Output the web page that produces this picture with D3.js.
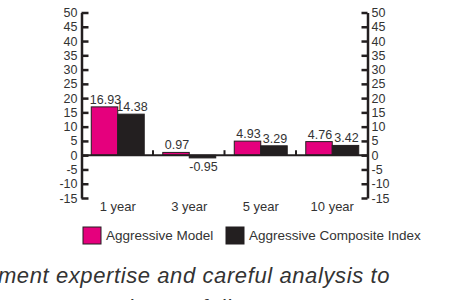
<!DOCTYPE html>
<html>
<head>
<meta charset="utf-8">
<script src="https://cdn.jsdelivr.net/npm/d3@7"></script>
<style>
  body { margin: 0; background: #fff; }
  svg { display: block; font-family: "Liberation Sans", Arial, sans-serif; }
</style>
</head>
<body>
<svg id="chart" width="469" height="300"></svg>
<script>
const categories = ['1 year', '3 year', '5 year', '10 year'];
const seriesNames = ['Aggressive Model', 'Aggressive Composite Index'];
const modelValues = [16.93, 0.97, 4.93, 4.76];
const indexValues = [14.38, -0.95, 3.29, 3.42];
const yTicks = [-15, -10, -5, 0, 5, 10, 15, 20, 25, 30, 35, 40, 45, 50];

const PINK = '#e5007d';
const DARK = '#231f20';
const TEXT = '#333';

const svg = d3.select('#chart');

let x = d3.scaleBand().domain(categories).range([82, 368]);
let inner = d3.scaleBand().domain(seriesNames).range([0, x.bandwidth()]).paddingOuter(0.35);
let y = d3.scaleLinear().domain([-15, 50]).range([198, 12.5]);
let color = d3.scaleOrdinal().domain(seriesNames).range([PINK, DARK]);

// plain hyphen for negatives, like the original
let fmtTick = (d) => String(d);
let fmtValue = (d) => d.toFixed(2);

// rows: one per category, holding both series values
let rows = categories.map((c, i) => ({ cat: c, vals: [modelValues[i], indexValues[i]] }));

// bars
let groups = svg.append('g').selectAll('g')
  .data(rows)
  .enter()
  .append('g')
    .attr('transform', (d) => `translate(${x(d.cat)},0)`);

groups.selectAll('rect')
  .data((d) => d.vals.map((v, j) => ({ name: seriesNames[j], v })))
  .enter()
  .append('rect')
    .attr('x', (d) => inner(d.name))
    .attr('y', (d) => y(Math.max(0, d.v)))
    .attr('width', inner.bandwidth())
    .attr('height', (d) => Math.abs(y(d.v) - y(0)))
    .attr('fill', (d) => color(d.name))
    .attr('stroke', DARK)
    .attr('stroke-width', 1);

// value labels
groups.selectAll('text')
  .data((d) => d.vals.map((v, j) => ({ name: seriesNames[j], v })))
  .enter()
  .append('text')
    .attr('x', (d) => inner(d.name) + inner.bandwidth() / 2 + 1)
    .attr('y', (d) => d.v >= 0 ? y(d.v) - 3 : y(d.v) + 13)
    .attr('text-anchor', 'middle')
    .attr('font-size', 12.5)
    .attr('fill', TEXT)
    .text((d) => fmtValue(d.v));

// zero line
svg.append('line')
  .attr('x1', 81).attr('x2', 368)
  .attr('y1', y(0)).attr('y2', y(0))
  .attr('stroke', DARK)
  .attr('stroke-width', 2);

// little separators between the categories
svg.append('g').selectAll('line')
  .data(categories.slice(1))
  .enter()
  .append('line')
    .attr('x1', (d) => x(d) - 0.5)
    .attr('x2', (d) => x(d) - 0.5)
    .attr('y1', y(0))
    .attr('y2', y(0) - 5)
    .attr('stroke', DARK)
    .attr('stroke-width', 2);

// axes
let leftAxis = d3.axisLeft(y).tickValues(yTicks).tickFormat(fmtTick)
  .tickSize(-7).tickSizeOuter(0).tickPadding(4);
let rightAxis = d3.axisRight(y).tickValues(yTicks).tickFormat(fmtTick)
  .tickSize(-6).tickSizeOuter(0).tickPadding(4);

function styleAxis(g) {
  g.select('.domain').attr('stroke', DARK).attr('stroke-width', 2.5);
  g.selectAll('.tick line').attr('stroke', DARK).attr('stroke-width', 2.5);
  g.selectAll('.tick text').attr('fill', TEXT).attr('font-size', 12.5)
    .attr('font-family', '"Liberation Sans", Arial, sans-serif');
}

svg.append('g').attr('transform', 'translate(81.5,0)').call(leftAxis).call(styleAxis);
svg.append('g').attr('transform', 'translate(367.5,0)').call(rightAxis).call(styleAxis);

// category labels
svg.append('g').selectAll('text')
  .data(categories)
  .enter()
  .append('text')
    .attr('x', (d) => x(d) + x.bandwidth() / 2)
    .attr('y', 211)
    .attr('text-anchor', 'middle')
    .attr('font-size', 13)
    .attr('fill', TEXT)
    .text((d) => d);

// legend
let legendX = [83, 226];
let legend = svg.append('g').selectAll('g')
  .data(seriesNames)
  .enter()
  .append('g')
    .attr('transform', (d, i) => `translate(${legendX[i]},227)`);

legend.append('rect')
  .attr('width', 18).attr('height', 17)
  .attr('fill', (d) => color(d))
  .attr('stroke', DARK).attr('stroke-width', 1);

legend.append('text')
  .attr('x', 23).attr('y', 13)
  .attr('font-size', 13.5)
  .attr('fill', TEXT)
  .text((d) => d);

// cut-off sentence under the chart
svg.append('text')
  .attr('x', 390).attr('y', 283)
  .attr('text-anchor', 'end')
  .attr('font-size', 22)
  .attr('letter-spacing', 0.6)
  .attr('font-style', 'italic')
  .attr('fill', TEXT)
  .text('investment expertise and careful analysis to');

svg.append('text')
  .attr('x', 20).attr('y', 315)
  .attr('font-size', 22)
  .attr('letter-spacing', 0.6)
  .attr('font-style', 'italic')
  .attr('fill', TEXT)
  .text('construct the portfolios.');
</script>
</body>
</html>
